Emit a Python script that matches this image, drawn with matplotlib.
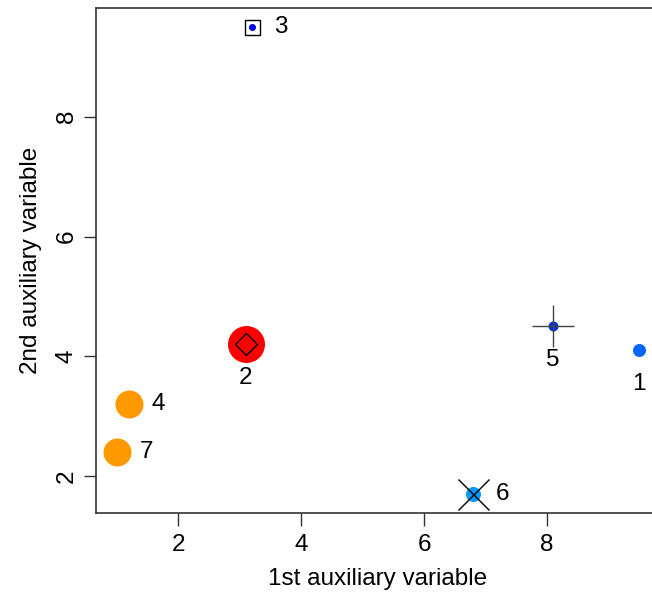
import matplotlib
matplotlib.use("Agg")
import matplotlib.pyplot as plt

# Data
ids = ["1", "2", "3", "4", "5", "6", "7"]
x1 = [9.5, 3.1, 3.2, 1.2, 8.1, 6.8, 1.0]
x2 = [4.1, 4.2, 9.5, 3.2, 4.5, 1.7, 2.4]
colors = ["#0066FF", "#FF0000", "#0000EE", "#FF9900", "#0033DD", "#0099FF", "#FF9900"]
diam_px = [13, 37, 7, 28, 10, 15, 28]
overlay = [None, "D", "s", None, "+", "x", None]
overlay_px = [0, 15, 15, 0, 42, 31, 0]
overlay_col = [None, "black", "black", None, "#444444", "black", None]
label_pos = ["below", "below", "right", "right", "below", "right", "right"]

plt.rcParams['font.family'] = ['Liberation Sans', 'DejaVu Sans']
W, H = 652, 598
fig = plt.figure(figsize=(W / 100, H / 100), dpi=100)
ax = fig.add_axes([96 / W, (598 - 513) / H, (660 - 96) / W, (513 - 8) / H])

FS = 17.5
px2pt = 0.72
for i in range(len(ids)):
    ax.plot(x1[i], x2[i], 'o', ms=diam_px[i] * px2pt, color=colors[i],
            mec='none', zorder=2)
    if overlay[i] is not None:
        ms = overlay_px[i] * px2pt
        ax.plot(x1[i], x2[i], overlay[i], ms=ms, mfc='none',
                mec=overlay_col[i], mew=1.0, zorder=3)
    if label_pos[i] == "below":
        ax.annotate(ids[i], (x1[i], x2[i]), xytext=(0, -24.5), textcoords='offset points',
                    ha='center', va='center', fontsize=FS)
    else:
        ax.annotate(ids[i], (x1[i], x2[i]), xytext=(21, 0), textcoords='offset points',
                    ha='center', va='center', fontsize=FS)

ax.set_xlim(0.66, 9.84)
ax.set_ylim(1.388, 9.812)
ax.set_xticks([2, 4, 6, 8])
ax.set_yticks([2, 4, 6, 8])
ax.tick_params(axis='both', labelsize=FS, length=9, width=1, color='#333333')
ax.tick_params(axis='x', pad=6)
ax.tick_params(axis='y', pad=4)
for lab in ax.get_yticklabels():
    lab.set_rotation(90)
    lab.set_va('center')
for s in ax.spines.values():
    s.set_linewidth(1.2)
    s.set_color('#333333')

ax.set_xlabel("1st auxiliary variable", fontsize=FS, labelpad=9)
ax.set_ylabel("2nd auxiliary variable", fontsize=FS, labelpad=10)

fig.savefig("out.png", dpi=100)
